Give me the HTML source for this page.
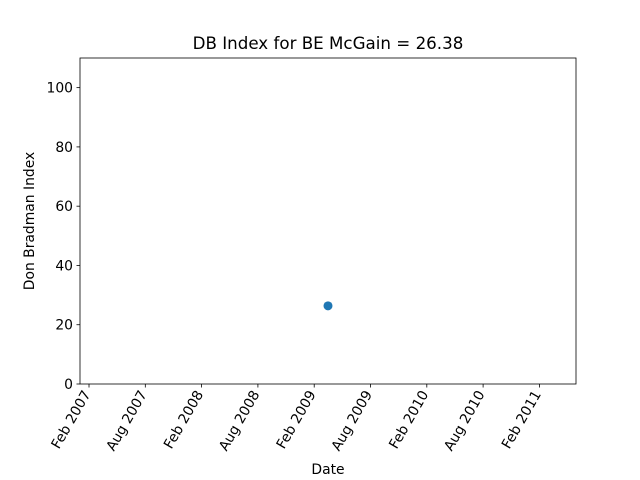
<!DOCTYPE html>
<html><head><meta charset="utf-8"><style>
body{margin:0;background:#fff;}
svg{display:block;font-family:"DejaVu Sans","Liberation Sans",sans-serif;}
</style></head><body>
<svg id="chart" width="640" height="480"></svg>
<script>
const xTickLabels = ["Feb 2007","Aug 2007","Feb 2008","Aug 2008","Feb 2009","Aug 2009","Feb 2010","Aug 2010","Feb 2011"];
const xTickMonths = [1,7,13,19,25,31,37,43,49];
const yTicks = [0,20,40,60,80,100];
const pointMonths = [26.47];
const pointValues = [26.38];

const L=80,R=576,T=58,B=384;
const xMin=0.04,xMax=52.9,yMin=0,yMax=110;
const sx=m=>L+(m-xMin)/(xMax-xMin)*(R-L);
const sy=v=>B-(v-yMin)/(yMax-yMin)*(B-T);
const NS="http://www.w3.org/2000/svg";
const svg=document.getElementById('chart');
function mk(tag,attrs,text){const e=document.createElementNS(NS,tag);for(const k in attrs)e.setAttribute(k,attrs[k]);if(text!==undefined)e.textContent=text;svg.appendChild(e);return e;}

let t=mk('text',{x:328,y:49,'text-anchor':'middle','font-size':16.7,fill:'#000'},'DB Index for BE McGain = 26.38');



yTicks.forEach(v=>{
  const y=sy(v);
  const l=mk('line',{x1:L-3.5,x2:L,y1:y,y2:y,stroke:'#000','stroke-width':0.8});
  
  
  const tx=mk('text',{x:L-7,y:y+5,'text-anchor':'end','font-size':13.9,fill:'#000'},String(v));
  
  
});
xTickMonths.forEach((m,i)=>{
  const x=sx(m);
  const l=mk('line',{x1:x,x2:x,y1:B,y2:B+3.5,stroke:'#000','stroke-width':0.8});
  
  
  const tx=mk('text',{x:0,y:0,'text-anchor':'end','font-size':13.9,fill:'#000',transform:`translate(${x+2},${B+10}) rotate(-60)`},xTickLabels[i]);
  
  
});

pointValues.forEach((v,i)=>{
  const c=mk('circle',{cx:sx(pointMonths[i]),cy:sy(v),r:4.5,fill:'#1f77b4'});
  
  
});

const frame=mk('rect',{x:L,y:T,width:R-L,height:B-T,fill:'none',stroke:'#000','stroke-width':0.8});



const xl=mk('text',{x:328,y:474,'text-anchor':'middle','font-size':13.9,fill:'#000'},'Date');


const yl=mk('text',{x:0,y:0,'text-anchor':'middle','font-size':13.9,fill:'#000',transform:`translate(34,${(T+B)/2}) rotate(-90)`},'Don Bradman Index');


</script>
</body></html>
